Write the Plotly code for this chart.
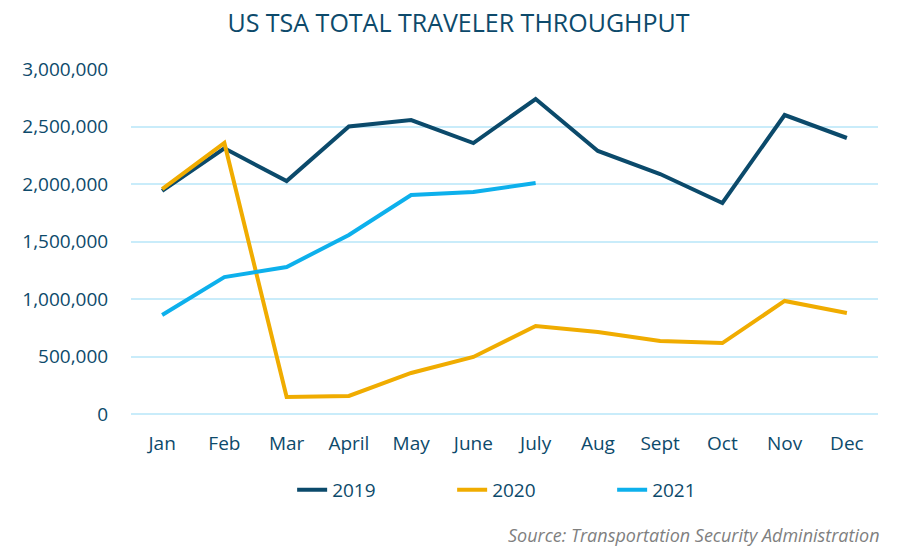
import plotly.graph_objects as go

months = ["Jan", "Feb", "Mar", "April", "May", "June", "July", "Aug", "Sept", "Oct", "Nov", "Dec"]
y2019 = [1940000, 2310000, 2026000, 2500000, 2556000, 2356000, 2739000, 2287000, 2087000, 1835000, 2600000, 2400000]
y2020 = [1956000, 2357000, 148000, 157000, 357000, 496000, 765000, 713000, 635000, 617000, 983000, 878000]
y2021 = [861000, 1190000, 1278000, 1557000, 1904000, 1930000, 2009000]

TEXT = "#0d4a6b"
FONT = "Open Sans"

fig = go.Figure()
for name, ys, color in [("2019", y2019, "#0b4a6b"), ("2020", y2020, "#f0ac00"), ("2021", y2021, "#0db0ec")]:
    fig.add_trace(go.Scatter(
        x=months[:len(ys)], y=ys, name=name, mode="lines",
        line=dict(color=color, width=4),
    ))

# page body has an 8px margin, so the margins are shifted by that
fig.update_layout(
    width=901, height=547,
    margin=dict(l=123, r=31, t=61, b=141),
    paper_bgcolor="white", plot_bgcolor="white",
    font=dict(family=FONT, color=TEXT, size=18),
    title=dict(text="US TSA TOTAL TRAVELER THROUGHPUT", x=0.5, xanchor="center",
               y=0.972, yanchor="middle", font=dict(size=25, color=TEXT)),
    legend=dict(orientation="h", x=0.537, xanchor="center", y=-0.22, yanchor="middle",
                font=dict(size=19, color=TEXT), entrywidth=115, traceorder="normal"),
    xaxis=dict(type="category", range=[-0.5, 11.5], showgrid=False, showline=False,
               ticks="outside", ticklen=12, tickcolor="rgba(0,0,0,0)",
               tickfont=dict(size=19, color=TEXT)),
    yaxis=dict(range=[0, 3000000], dtick=500000, tickformat=",d", gridcolor="#c9ecfa",
               gridwidth=1.5, zeroline=True, zerolinecolor="#c9ecfa", zerolinewidth=1.5,
               ticks="outside", ticklen=18, tickcolor="rgba(0,0,0,0)",
               tickfont=dict(size=19, color=TEXT)),
    annotations=[dict(text="<i>Source: Transportation Security Administration</i>",
                      xref="paper", yref="paper", x=1.005, y=-0.351, xanchor="right",
                      yanchor="middle", showarrow=False, font=dict(size=18, color="#7f7f7f"))],
)

fig.write_html("out.html")
